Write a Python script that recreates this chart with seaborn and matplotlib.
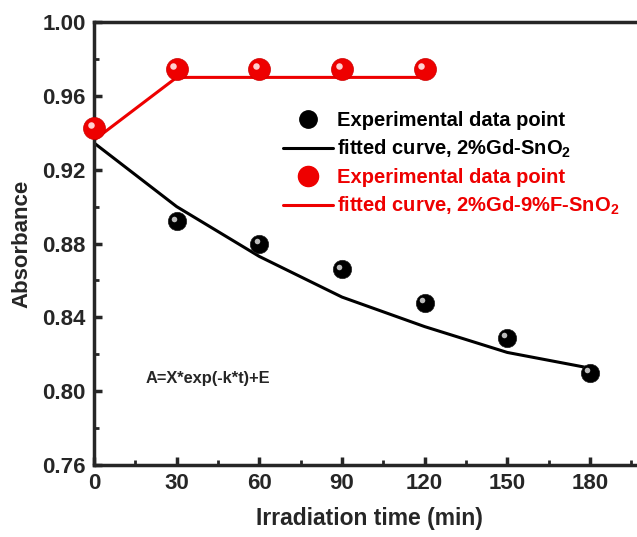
import matplotlib
matplotlib.use("Agg")
import matplotlib.pyplot as plt
import matplotlib.transforms as mtransforms
from matplotlib.lines import Line2D
from matplotlib.ticker import MultipleLocator
import seaborn as sns
import pandas as pd

sns.set_style("ticks")
plt.rcParams['font.family'] = ['Liberation Sans', 'DejaVu Sans']
plt.rcParams['font.weight'] = 'bold'
plt.rcParams['mathtext.fontset'] = 'custom'
plt.rcParams['mathtext.rm'] = 'Liberation Sans:bold'
plt.rcParams['mathtext.default'] = 'rm'

# data
t_black = [30, 60, 90, 120, 150, 180]
a_black = [0.892, 0.880, 0.866, 0.848, 0.829, 0.810]
t_fit_black = [0, 30, 60, 90, 120, 150, 180]
a_fit_black = [0.9345, 0.900, 0.873, 0.851, 0.835, 0.821, 0.8125]
t_red = [0, 30, 60, 90, 120]
a_red = [0.9426, 0.9745, 0.9745, 0.9745, 0.9745]
t_fit_red = [0, 30, 60, 90, 120]
a_fit_red = [0.936, 0.970, 0.970, 0.970, 0.970]
x_ticks = [0, 30, 60, 90, 120, 150, 180]
y_ticks = [0.76, 0.80, 0.84, 0.88, 0.92, 0.96, 1.00]

fig = plt.figure(figsize=(6.37, 5.37), dpi=100)
ax = fig.add_axes([0.1476, 0.134, 0.865, 0.825])

df_bf = pd.DataFrame({"t": t_fit_black, "A": a_fit_black})
df_rf = pd.DataFrame({"t": t_fit_red, "A": a_fit_red})
df_b = pd.DataFrame({"t": t_black, "A": a_black})
df_r = pd.DataFrame({"t": t_red, "A": a_red})

sns.lineplot(data=df_bf, x="t", y="A", color="black", linewidth=2.2, ax=ax, zorder=2)
sns.lineplot(data=df_rf, x="t", y="A", color="#ee0000", linewidth=2.2, ax=ax, zorder=2)

sns.scatterplot(data=df_b, x="t", y="A", color="black", s=175, edgecolor="#222222",
                linewidth=0.5, ax=ax, zorder=3, clip_on=False)
sns.scatterplot(data=df_r, x="t", y="A", color="#ee0000", s=250, edgecolor="#cc0000",
                linewidth=0.5, ax=ax, zorder=3, clip_on=False)
# sphere highlights
off_b = ax.transData + mtransforms.ScaledTranslation(-2/72, 2/72, fig.dpi_scale_trans)
off_r = ax.transData + mtransforms.ScaledTranslation(-2.5/72, 2.5/72, fig.dpi_scale_trans)
ax.scatter(t_black, a_black, s=16, color="#bbbbbb", transform=off_b, zorder=4,
           linewidths=0, clip_on=False)
ax.scatter(t_red, a_red, s=22, color="#ffd0d0", transform=off_r, zorder=4,
           linewidths=0, clip_on=False)

ax.set_xlim(0, 200)
ax.set_ylim(0.76, 1.00)
ax.set_xticks(x_ticks)
ax.set_yticks(y_ticks)
ax.set_yticklabels([f"{v:.2f}" for v in y_ticks])
ax.xaxis.set_minor_locator(MultipleLocator(15))
ax.yaxis.set_minor_locator(MultipleLocator(0.02))
ax.tick_params(which="major", direction="in", length=6, width=2.5, labelsize=16, pad=6)
ax.tick_params(which="minor", direction="in", length=3.5, width=2)
for lab in ax.get_xticklabels() + ax.get_yticklabels():
    lab.set_fontweight("bold")
for sp in ax.spines.values():
    sp.set_linewidth(2.5)
    sp.set_visible(True)

ax.set_xlabel("Irradiation time (min)", fontsize=16.5, fontweight="bold", labelpad=9)
ax.set_ylabel("Absorbance", fontsize=16, fontweight="bold", labelpad=7)

ax.text(0.093, 0.195, "A=X*exp(-k*t)+E", transform=ax.transAxes, fontsize=11.8,
        fontweight="bold", ha="left", va="center")

handles = [
    Line2D([], [], marker="o", linestyle="none", color="black", markersize=12.5),
    Line2D([], [], color="black", linewidth=2.2),
    Line2D([], [], marker="o", linestyle="none", color="#ee0000", markersize=14.5),
    Line2D([], [], color="#ee0000", linewidth=2.2),
]
labels = [
    "Experimental data point",
    r"fitted curve, 2%Gd-SnO$_2$",
    "Experimental data point",
    r"fitted curve, 2%Gd-9%F-SnO$_2$",
]
leg = ax.legend(handles, labels, loc="upper left", bbox_to_anchor=(0.343, 0.80),
                frameon=False, fontsize=14.5, handlelength=2.5, handletextpad=0.2,
                labelspacing=0.4, borderaxespad=0, borderpad=0)
for i, txt in enumerate(leg.get_texts()):
    txt.set_fontweight("bold")
    txt.set_color("black" if i < 2 else "#ee0000")

fig.savefig("out.png", dpi=100)
